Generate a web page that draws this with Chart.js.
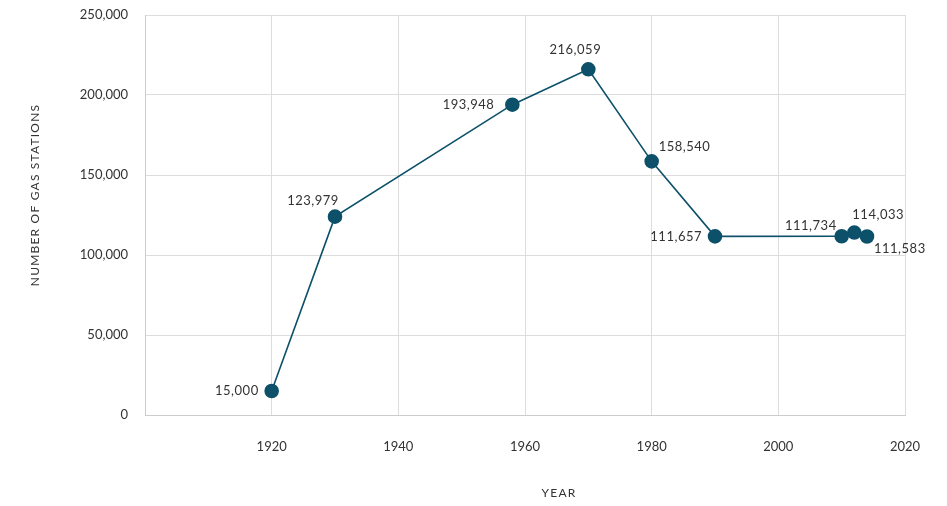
<!DOCTYPE html>
<html>
<head>
<meta charset="utf-8">
<script src="https://cdn.jsdelivr.net/npm/chart.js@4.4.0/dist/chart.umd.min.js"></script>
<style>
  html, body { margin: 0; padding: 0; background: #fff; }
  #wrap { width: 947px; height: 506px; }
</style>
</head>
<body>
<div id="wrap"><canvas id="c" width="947" height="506"></canvas></div>
<script>
// Number of gas stations in the US by year
const years = [1920, 1930, 1958, 1970, 1980, 1990, 2010, 2012, 2014];
const stations = [15000, 123979, 193948, 216059, 158540, 111657, 111734, 114033, 111583];
const yTicks = [0, 50000, 100000, 150000, 200000, 250000];
const xTicks = [1920, 1940, 1960, 1980, 2000, 2020];

const FONT = 'Lato, "Open Sans", sans-serif';
const TEXT = '#333333';
const LINE = '#0c5169';

// where each value label sits relative to its point: [dx, dy, align]
const labelPlacement = [
  [-13, 0, 'right'],
  [-22, -16, 'center'],
  [-18, 0, 'right'],
  [-13, -19, 'center'],
  [7, -15, 'left'],
  [-13, 0, 'right'],
  [-5, -10, 'right'],
  [-2, -18, 'left'],
  [7, 12, 'left']
];

const fmt = v => v.toLocaleString('en-US');

const valueLabels = {
  id: 'valueLabels',
  afterDatasetsDraw(chart) {
    const ctx = chart.ctx;
    const meta = chart.getDatasetMeta(0);
    ctx.save();
    ctx.font = '13px ' + FONT;
    ctx.letterSpacing = '0.5px';
    ctx.fillStyle = TEXT;
    ctx.textBaseline = 'middle';
    meta.data.forEach((pt, i) => {
      const [dx, dy, align] = labelPlacement[i];
      ctx.textAlign = align;
      ctx.fillText(fmt(stations[i]), pt.x + dx, pt.y + dy);
    });
    ctx.restore();
  }
};

const axisTitles = {
  id: 'axisTitles',
  afterDraw(chart) {
    const ctx = chart.ctx;
    const a = chart.chartArea;
    ctx.save();
    ctx.font = '12px ' + FONT;
    ctx.letterSpacing = '1.2px';
    ctx.fillStyle = TEXT;
    ctx.textAlign = 'center';
    ctx.textBaseline = 'middle';
    ctx.fillText('YEAR', (a.left + a.right) / 2 + 34, 493);
    ctx.translate(35, (a.top + a.bottom) / 2 - 20);
    ctx.rotate(-Math.PI / 2);
    ctx.fillText('NUMBER OF GAS STATIONS', 0, 0);
    ctx.restore();
  }
};

new Chart(document.getElementById('c'), {
  type: 'line',
  data: {
    datasets: [{
      data: years.map((y, i) => ({ x: y, y: stations[i] })),
      borderColor: LINE,
      backgroundColor: LINE,
      borderWidth: 1.6,
      pointRadius: 6.5,
      pointHoverRadius: 6.5,
      pointBackgroundColor: LINE,
      pointBorderColor: LINE,
      tension: 0
    }]
  },
  options: {
    responsive: false,
    animation: false,
    layout: { autoPadding: false, padding: { left: 0, top: 15, right: 42, bottom: 0 } },
    plugins: { legend: { display: false }, tooltip: { enabled: false } },
    scales: {
      x: {
        type: 'linear',
        min: 1900,
        max: 2020,
        afterBuildTicks: s => { s.ticks = [1900].concat(xTicks).map(v => ({ value: v })); },
        ticks: {
          callback: v => (xTicks.includes(v) ? String(v) : ''),
          font: { family: FONT, size: 13 },
          color: TEXT,
          padding: 24,
          maxRotation: 0
        },
        grid: { color: '#dddddd', drawTicks: false },
        border: { display: true, color: '#cccccc' },
        afterFit: s => { s.height = 91; s.paddingLeft = 0; s.paddingRight = 0; }
      },
      y: {
        min: 0,
        max: 250000,
        afterBuildTicks: s => { s.ticks = yTicks.map(v => ({ value: v })); },
        ticks: {
          callback: v => fmt(v),
          font: { family: FONT, size: 13 },
          color: TEXT,
          padding: 17
        },
        grid: { color: '#dddddd', drawTicks: false },
        border: { display: true, color: '#cccccc' },
        afterFit: s => { s.width = 145; s.paddingTop = 8; s.paddingBottom = 8; }
      }
    }
  },
  plugins: [valueLabels, axisTitles]
});
</script>
</body>
</html>
